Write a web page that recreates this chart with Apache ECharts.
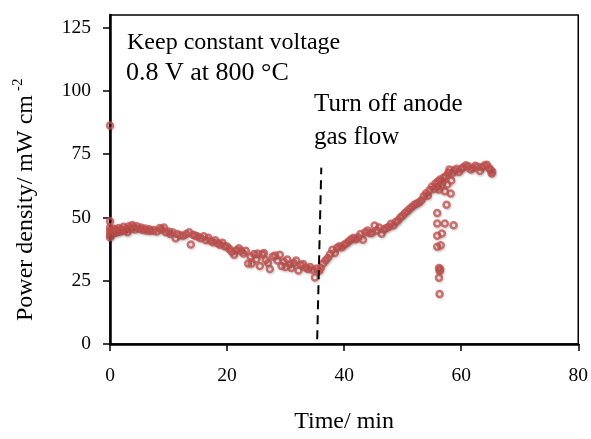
<!DOCTYPE html>
<html>
<head>
<meta charset="utf-8">
<script src="https://cdn.jsdelivr.net/npm/echarts@6/dist/echarts.min.js"></script>
<style>
  html, body { margin: 0; padding: 0; background: #fff; overflow: hidden; }
  #chart { width: 591px; height: 439px; }
</style>
</head>
<body>
<div id="chart"></div>
<script>
// time (min) and power density (mW cm-2)
var timeMin = [
  0, 0, 0, 0, 0, 0, 0.2, 0.3, 0.5, 0.7, 0.9, 1.1, 1.3, 1.5, 1.8, 2.0, 2.3, 2.5, 2.8, 3.0,
  3.2, 3.5, 3.8, 4.0, 4.3, 4.6, 5.0, 5.3, 5.6, 6.0, 6.3, 6.7, 7.0, 7.5, 8.0, 8.5, 8.8, 9.2, 9.5, 10.0,
  10.3, 10.7, 11.2, 11.5, 12.0, 12.5, 13.0, 13.5, 13.8, 14.2, 14.6, 15.0, 15.5, 16.0, 16.4, 16.8, 17.2, 17.6, 18.0, 18.4,
  18.8, 19.2, 19.6, 20.0, 20.4, 20.8, 21.2, 21.6, 22.0, 22.4, 22.8, 23.2, 23.6, 24.0, 24.2, 24.6, 25.0, 25.2, 25.6, 26.0,
  26.3, 26.6, 27.0, 27.3, 27.8, 28.2, 28.6, 29.0, 29.3, 29.7, 30.0, 30.3, 30.7, 31.0, 31.4, 31.8, 32.2, 32.6, 33.0, 33.4,
  33.8, 34.2, 34.6, 35.0, 35.3, 35.7, 36.0, 36.4, 36.8, 37.2, 37.6, 38.0, 38.4, 38.8, 39.2, 39.6, 40.0, 40.4, 40.8, 41.2,
  41.6, 42.0, 42.4, 42.8, 43.2, 43.6, 44.0, 44.4, 44.8, 45.2, 45.6, 46.0, 46.4, 46.8, 47.2, 47.6, 48.0, 48.4, 48.8, 49.2,
  49.6, 50.0, 50.4, 50.8, 51.2, 51.6, 52.0, 52.4, 52.8, 53.2, 53.6, 54.0, 54.3, 54.6, 55.0, 55.3, 55.6, 55.9, 56.0, 56.2,
  56.4, 56.6, 56.8, 57.0, 57.2, 57.4, 57.6, 57.8, 58.0, 58.3, 58.5, 58.8, 59.2, 59.6, 60.0, 60.4, 60.8, 61.2, 61.6, 62.0,
  62.4, 62.8, 63.2, 63.6, 64.0, 64.4, 64.8, 65.0, 65.2, 65.3,
  55.9, 55.9, 57.2, 58.7, 57.5, 55.9, 56.7, 55.9, 56.5, 56.2, 56.3, 56.4, 56.2, 56.3, 58.2
];
var powerDensity = [
  86.3, 48.5, 46.0, 44.5, 43.0, 42.2, 45.0, 43.5, 44.5, 45.5, 44.0, 45.0, 44.3, 45.8, 44.5, 45.2, 46.3, 44.8, 45.5, 44.2,
  46.5, 45.5, 47.0, 46.2, 45.2, 46.5, 45.5, 46.0, 45.0, 45.6, 44.8, 45.3, 44.7, 45.0, 44.5, 45.8, 45.2, 46.0, 44.2, 44.5,
  43.5, 44.2, 41.8, 43.5, 43.0, 42.8, 43.5, 44.2, 39.3, 43.2, 42.8, 42.5, 41.8, 42.6, 41.0, 42.0, 40.8, 40.2, 41.0, 39.8,
  39.2, 40.0, 38.6, 38.5, 37.5, 36.5, 35.3, 37.0, 37.8, 36.8, 35.8, 36.8, 31.8, 34.6, 31.8, 35.6, 33.5, 35.8, 30.8, 35.5,
  36.0, 33.2, 32.0, 29.6, 34.6, 35.0, 33.0, 35.3, 30.8, 32.5, 30.4, 33.4, 31.5, 30.0, 32.0, 33.0, 29.0, 31.2, 31.6, 30.2,
  29.6, 30.4, 29.3, 26.3, 29.8, 28.8, 30.0, 31.8, 33.0, 34.0, 35.5, 37.2, 36.0, 38.0, 38.6, 38.2, 39.2, 39.8, 40.6, 41.4,
  42.0, 41.4, 42.2, 43.5, 41.2, 44.2, 44.8, 43.8, 44.0, 46.8, 44.8, 46.0, 43.6, 45.2, 45.8, 46.2, 47.5, 46.8, 48.2, 48.8,
  50.0, 50.8, 51.8, 52.6, 53.4, 54.2, 55.0, 55.5, 56.0, 56.8, 58.4, 59.6, 58.6, 60.8, 62.2, 61.2, 63.4, 62.0, 64.2, 61.0,
  65.0, 62.6, 64.0, 65.8, 60.4, 66.4, 63.0, 67.8, 69.0, 64.6, 67.5, 68.6, 69.2, 68.0, 69.2, 69.8, 70.6, 70.2, 69.0, 69.4,
  70.4, 70.0, 68.4, 69.8, 70.6, 70.8, 69.4, 68.8, 67.4, 68.2,
  51.8, 47.6, 47.6, 46.9, 55.0, 42.8, 43.7, 38.4, 39.0, 30.0, 28.8, 29.6, 26.2, 19.8, 59.5
];
// dashed marker where the anode gas was switched off
var cutoffTime = [35.4, 36.1];
var cutoffLevel = [1.9, 69.7];

var yTicks = [0, 25, 50, 75, 100, 125];

var points = timeMin.map(function (t, i) { return [t, powerDensity[i]]; });
var cutoffLine = cutoffTime.map(function (t, i) { return [t, cutoffLevel[i]]; });

var serif = '"Liberation Serif", "DejaVu Serif", serif';

var myChart = echarts.init(document.getElementById('chart'));
var option = {
  animation: false,
  textStyle: { fontFamily: serif, color: '#000' },
  grid: {
    left: 110, right: 11, top: 15, bottom: 86,
    show: true, borderColor: '#000', borderWidth: 1.5
  },
  xAxis: {
    type: 'value', min: 0, max: 80, interval: 20,
    name: 'Time/ min', nameLocation: 'middle', nameGap: 66,
    nameTextStyle: { fontFamily: serif, fontSize: 24, color: '#000' },
    splitLine: { show: false },
    axisLine: { lineStyle: { color: '#000', width: 2.5 } },
    axisTick: { length: 7, lineStyle: { color: '#000', width: 1.5 } },
    axisLabel: { fontFamily: serif, fontSize: 19.5, color: '#000', margin: 22 }
  },
  yAxis: {
    type: 'value', min: 0, max: 130,
    splitLine: { show: false },
    axisLine: { lineStyle: { color: '#000', width: 2.5 } },
    axisTick: { length: 7, customValues: yTicks, lineStyle: { color: '#000', width: 1.5 } },
    axisLabel: { fontFamily: serif, fontSize: 19.5, color: '#000', margin: 19, customValues: yTicks }
  },
  graphic: [
    { type: 'text', left: 127, top: 31, style: { text: 'Keep constant voltage', font: '24px ' + serif, fill: '#000' } },
    { type: 'text', left: 126, top: 60, style: { text: '0.8 V at 800 °C', font: '26px ' + serif, fill: '#000' } },
    { type: 'text', left: 314, top: 92, style: { text: 'Turn off anode', font: '25px ' + serif, fill: '#000' } },
    { type: 'text', left: 314, top: 125, style: { text: 'gas flow', font: '25px ' + serif, fill: '#000' } },
    {
      type: 'text', x: 11, y: 321, rotation: Math.PI / 2,
      style: {
        text: '{a|Power density/ mW cm}{s|-2}',
        rich: {
          a: { fontFamily: serif, fontSize: 24, color: '#000' },
          s: { fontFamily: serif, fontSize: 15, color: '#000', padding: [0, 0, 14, 4] }
        }
      }
    }
  ],
  series: [
    {
      type: 'scatter',
      data: points,
      symbol: 'circle',
      symbolSize: 6,
      itemStyle: {
        color: 'rgba(255,255,255,0)',
        borderColor: '#C0504D',
        borderWidth: 2.5,
        shadowColor: 'rgba(0,0,0,0.2)',
        shadowBlur: 2,
        shadowOffsetX: 1,
        shadowOffsetY: 1.5
      },
      z: 3
    },
    {
      type: 'line',
      data: cutoffLine,
      symbol: 'none',
      lineStyle: { color: '#000', width: 2, type: [9, 6] },
      z: 4
    }
  ]
};
myChart.setOption(option);
window.onresize = function () {
  myChart.resize();
};
</script>
</body>
</html>
